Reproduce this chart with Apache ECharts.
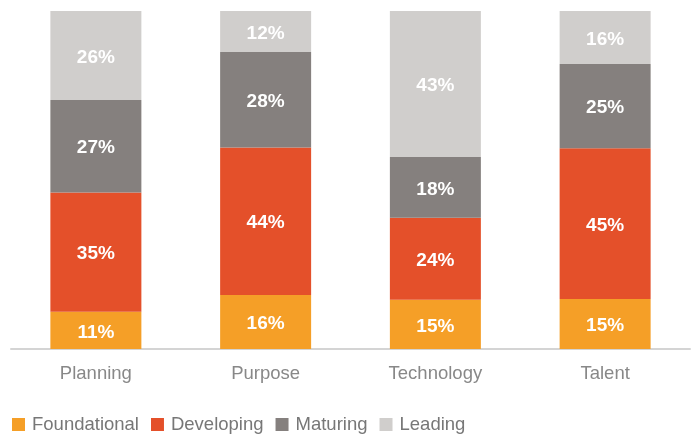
<!DOCTYPE html>
<html><head><meta charset="utf-8">
<script src="https://cdn.jsdelivr.net/npm/echarts@6/dist/echarts.min.js"></script>
<style>html,body{margin:0;padding:0;background:#fff}#c{width:700px;height:437px}</style>
</head><body><div id="c"></div>
<script>
const categories = ['Planning', 'Purpose', 'Technology', 'Talent'];
const foundational = [11.0, 16.0, 14.6, 14.8];
const developing = [35.3, 43.6, 24.2, 44.6];
const maturing = [27.4, 28.3, 18.0, 24.9];
const leading = [26.3, 12.1, 43.2, 15.7];
const seriesNames = ['Foundational', 'Developing', 'Maturing', 'Leading'];
const colors = ['#F59F27', '#E4502A', '#85807E', '#D0CECC'];
const dataSets = [foundational, developing, maturing, leading];
const font = '"Liberation Sans", Arial, Helvetica, sans-serif';

const chart = echarts.init(document.getElementById('c'), null, {renderer: 'canvas'});
chart.setOption({
  animation: false,
  grid: {left: 11, right: 10, top: 11, bottom: 88},
  legend: {
    top: 410, left: 7, itemWidth: 13, itemHeight: 13, itemGap: 12,
    icon: 'rect',
    textStyle: {color: '#777', fontSize: 18.5, fontFamily: font, padding: [0, 0, 0, 2]},
    data: seriesNames
  },
  xAxis: {
    type: 'category', data: categories,
    axisLine: {lineStyle: {color: '#d4d4d4', width: 2}},
    axisTick: {show: false},
    axisLabel: {color: '#888', fontSize: 18.5, fontFamily: font, margin: 15}
  },
  yAxis: {type: 'value', min: 0, max: 100, show: false, splitLine: {show: false}},
  series: dataSets.map((d, i) => ({
    name: seriesNames[i], type: 'bar', stack: 'total', data: d, barWidth: 91,
    itemStyle: {color: colors[i]},
    label: {
      show: true, position: 'inside', color: '#fff', fontWeight: 'bold',
      fontSize: 19, fontFamily: font, offset: [0, 2],
      formatter: p => Math.round(p.value) + '%'
    }
  }))
});
</script></body></html>
